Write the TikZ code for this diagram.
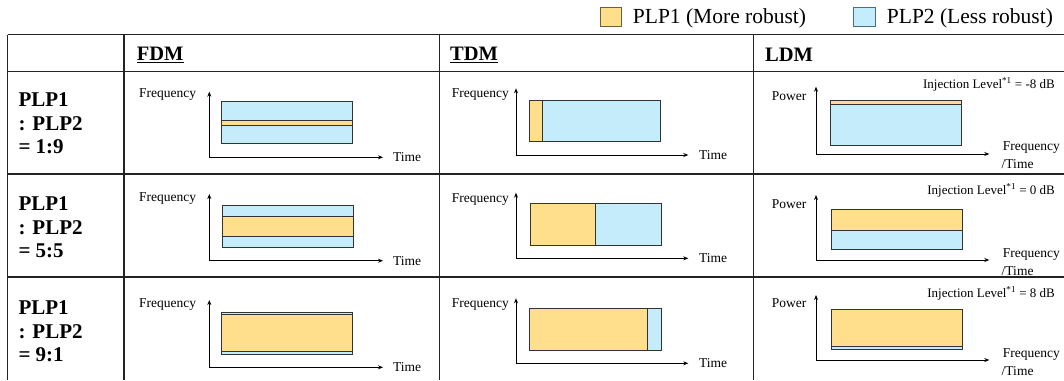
\documentclass[tikz,border=0pt]{standalone}
\usepackage{fontspec}
\setmainfont{Liberation Serif}
\usetikzlibrary{arrows.meta}

\definecolor{plpone}{RGB}{255,223,140}
\definecolor{plptwo}{RGB}{197,236,251}
\definecolor{gridline}{RGB}{35,35,35}
\definecolor{edgeone}{RGB}{110,95,60}
\definecolor{edgetwo}{RGB}{70,110,140}

\begin{document}
\begin{tikzpicture}[x=1pt,y=-1pt,
  grid/.style={draw=gridline, line width=1.3pt},
  axis/.style={line width=0.8pt,
    {Stealth[length=5pt,width=4pt]}-{Stealth[length=5pt,width=4pt]}},
  bandone/.style={fill=plpone, draw=black!80, line width=0.7pt},
  bandtwo/.style={fill=plptwo, draw=black!80, line width=0.7pt},
  lbl/.style={font=\fontsize{13.5}{15}\selectfont, inner sep=0pt, anchor=base west},
  inj/.style={font=\fontsize{13}{15}\selectfont, inner sep=0pt, anchor=base east},
  hdr/.style={font=\bfseries\fontsize{20.5}{23}\selectfont, inner sep=0pt, anchor=base west},
  ratio/.style={font=\bfseries\fontsize{21}{23.5}\selectfont, inner sep=0pt,
    align=left, anchor=north west},
  legbox/.style={minimum width=21.7pt, minimum height=19.4pt, inner sep=0pt, line width=0.8pt},
  legtext/.style={font=\fontsize{21.5}{24}\selectfont, inner sep=0pt, anchor=base west}]

\useasboundingbox (0,0) rectangle (1064,380);

% ---- legend ----
\node[legbox, fill=plpone, draw=edgeone] (keyone) at (610.8,17) {};
\node[legtext] (keyonetxt) at (632.7,23.3) {PLP1 (More robust)};
\node[legbox, fill=plptwo, draw=edgetwo] (keytwo) at (864.1,17) {};
\node[legtext] (keytwotxt) at (886.7,23.3) {PLP2 (Less robust)};

% ---- table rules ----
\foreach \yy in {34.5,71.3,174,277}
  \draw[grid] (7.5,\yy) -- (1064,\yy);
\foreach \xx in {7.5,124,439.3,753.3}
  \draw[grid] (\xx,34.5) -- (\xx,380);

% ---- column headings ----
\node[hdr] (hfdm) at (136.7,60.7) {\underline{FDM}};
\node[hdr] (htdm) at (450,60.7) {\underline{TDM}};
\node[hdr] (hldm) at (765,61.2) {LDM};

% ---- row headings ----
\node[ratio] (rone) at (18.3,92.5) {PLP1\\: PLP2\\= 1:9};
\node[ratio] (rtwo) at (18.3,196.5) {PLP1\\: PLP2\\= 5:5};
\node[ratio] (rthree) at (18.3,300.5) {PLP1\\: PLP2\\= 9:1};

% ---- FDM ----
% 1:9
\draw[axis] (209.3,91.7) |- (383,157.3);
\draw[bandtwo] (221.7,101.7) rectangle (352.7,143.3);
\draw[bandone] (221.7,120.3) rectangle (352.7,125);
\node[lbl] (fdmfa) at (139,97.3) {Frequency};
\node[lbl] (fdmta) at (393,161.8) {Time};
% 5:5
\draw[axis] (209.3,194) |- (383,260.7);
\draw[bandtwo] (222.7,205) rectangle (353.3,247.3);
\draw[bandone] (222.7,216) rectangle (353.3,236.7);
\node[lbl] (fdmfb) at (139,201.5) {Frequency};
\node[lbl] (fdmtb) at (393,265.2) {Time};
% 9:1
\draw[axis] (209.3,300) |- (383,367.3);
\draw[bandtwo] (221.7,312.7) rectangle (352.7,354);
\draw[bandone] (221.7,314.4) rectangle (352.7,351.8);
\node[lbl] (fdmfc) at (139,307.5) {Frequency};
\node[lbl] (fdmtc) at (393,371.8) {Time};

% ---- TDM ----
% 1:9
\draw[axis] (516,88.3) |- (688.3,155);
\draw[bandtwo] (529.3,100) rectangle (660.7,141);
\draw[bandone] (529.3,100) rectangle (542.3,141);
\node[lbl] (tdmfa) at (451.7,97.5) {Frequency};
\node[lbl] (tdmta) at (699,159.5) {Time};
% 5:5
\draw[axis] (516,192.7) |- (688.3,258.3);
\draw[bandtwo] (530,203.3) rectangle (661.7,245);
\draw[bandone] (530,203.3) rectangle (595.7,245);
\node[lbl] (tdmfb) at (451.7,202.3) {Frequency};
\node[lbl] (tdmtb) at (699,262.8) {Time};
% 9:1
\draw[axis] (516,298.3) |- (688.3,363.3);
\draw[bandtwo] (529.3,308.3) rectangle (661,350);
\draw[bandone] (529.3,308.3) rectangle (647.7,350);
\node[lbl] (tdmfc) at (451.7,307.5) {Frequency};
\node[lbl] (tdmtc) at (699,367.8) {Time};

% ---- LDM ----
% -8 dB
\draw[axis] (816,86.7) |- (989.3,154);
\draw[bandtwo] (830.7,100) rectangle (961.7,145);
\draw[bandone] (830.7,100) rectangle (961.7,104.3);
\node[lbl] (ldmpa) at (771.7,100.5) {Power};
\node[inj] (ldmia) at (1055,88) {Injection Level\textsuperscript{*1} = -8 dB};
\node[lbl] (ldmfa) at (1002.7,150) {Frequency};
\node[lbl] (ldmta) at (1001.5,168) {/Time};
% 0 dB
\draw[axis] (816,195) |- (989.3,260);
\draw[bandtwo] (831.3,209.3) rectangle (962.3,249.3);
\draw[bandone] (831.3,209.3) rectangle (962.3,230);
\node[lbl] (ldmpb) at (771.7,208.5) {Power};
\node[inj] (ldmib) at (1055,194) {Injection Level\textsuperscript{*1} = 0 dB};
\node[lbl] (ldmfb) at (1002.7,257.5) {Frequency};
\node[lbl] (ldmtb) at (1001.5,275.5) {/Time};
% 8 dB
\draw[axis] (816,295) |- (989.3,360);
\draw[bandtwo] (831,309.3) rectangle (962,349.3);
\draw[bandone] (831,309.3) rectangle (962,346.7);
\node[lbl] (ldmpc) at (771.7,307.5) {Power};
\node[inj] (ldmic) at (1055,297.3) {Injection Level\textsuperscript{*1} = 8 dB};
\node[lbl] (ldmfc) at (1002.7,357) {Frequency};
\node[lbl] (ldmtc) at (1001.5,375) {/Time};

\end{tikzpicture}
\end{document}
